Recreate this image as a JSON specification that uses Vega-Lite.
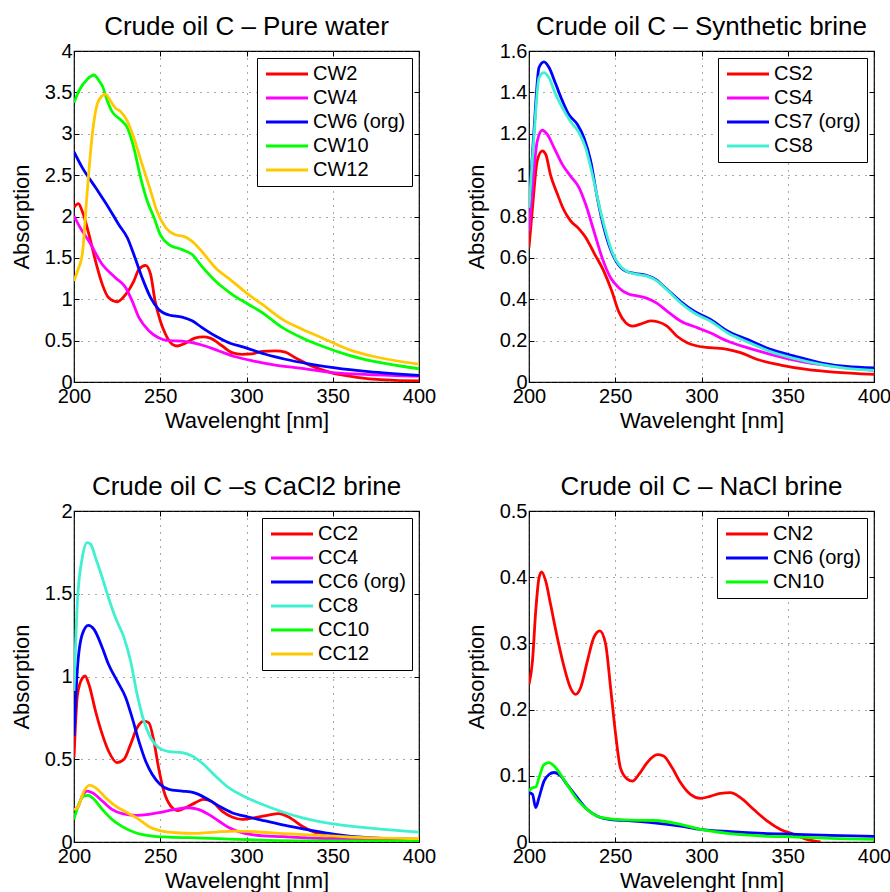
{
"$schema": "https://vega.github.io/schema/vega-lite/v6.json",
"padding": {"left": 9, "top": 13, "right": 0, "bottom": 0},
"background": "white",
"datasets": {
"pw": [
{"s":"CW2","w":200,"a":2.11},{"s":"CW2","w":202.5,"a":2.155},{"s":"CW2","w":205,"a":2.05},{"s":"CW2","w":208.7,"a":1.78},{"s":"CW2","w":212.5,"a":1.46},{"s":"CW2","w":216.4,"a":1.18},{"s":"CW2","w":220,"a":1.02},{"s":"CW2","w":225,"a":0.97},{"s":"CW2","w":230,"a":1.06},{"s":"CW2","w":234.7,"a":1.22},{"s":"CW2","w":237.6,"a":1.36},{"s":"CW2","w":241.5,"a":1.41},{"s":"CW2","w":244.4,"a":1.3},{"s":"CW2","w":247,"a":0.98},{"s":"CW2","w":250,"a":0.74},{"s":"CW2","w":253,"a":0.58},{"s":"CW2","w":257,"a":0.455},{"s":"CW2","w":260,"a":0.435},{"s":"CW2","w":264.6,"a":0.47},{"s":"CW2","w":270,"a":0.53},{"s":"CW2","w":275,"a":0.545},{"s":"CW2","w":279,"a":0.53},{"s":"CW2","w":286,"a":0.435},{"s":"CW2","w":291.6,"a":0.355},{"s":"CW2","w":297.4,"a":0.335},{"s":"CW2","w":303,"a":0.34},{"s":"CW2","w":309,"a":0.37},{"s":"CW2","w":316.7,"a":0.375},{"s":"CW2","w":322.5,"a":0.36},{"s":"CW2","w":328,"a":0.295},{"s":"CW2","w":336,"a":0.21},{"s":"CW2","w":349.5,"a":0.11},{"s":"CW2","w":363,"a":0.06},{"s":"CW2","w":380,"a":0.025},{"s":"CW2","w":400,"a":0.012},
{"s":"CW4","w":200,"a":2.006},{"s":"CW4","w":204,"a":1.85},{"s":"CW4","w":208.7,"a":1.7},{"s":"CW4","w":216.4,"a":1.42},{"s":"CW4","w":224,"a":1.26},{"s":"CW4","w":230,"a":1.14},{"s":"CW4","w":233.7,"a":0.98},{"s":"CW4","w":237.6,"a":0.78},{"s":"CW4","w":243.4,"a":0.62},{"s":"CW4","w":249,"a":0.535},{"s":"CW4","w":255,"a":0.5},{"s":"CW4","w":262.7,"a":0.495},{"s":"CW4","w":268.5,"a":0.475},{"s":"CW4","w":276,"a":0.435},{"s":"CW4","w":284,"a":0.375},{"s":"CW4","w":293.5,"a":0.305},{"s":"CW4","w":305,"a":0.25},{"s":"CW4","w":316.7,"a":0.205},{"s":"CW4","w":332,"a":0.165},{"s":"CW4","w":351.4,"a":0.11},{"s":"CW4","w":370.7,"a":0.09},{"s":"CW4","w":400,"a":0.07},
{"s":"CW6 (org)","w":200,"a":2.78},{"s":"CW6 (org)","w":204.8,"a":2.59},{"s":"CW6 (org)","w":212.5,"a":2.35},{"s":"CW6 (org)","w":220,"a":2.11},{"s":"CW6 (org)","w":226,"a":1.9},{"s":"CW6 (org)","w":231,"a":1.74},{"s":"CW6 (org)","w":234.7,"a":1.54},{"s":"CW6 (org)","w":239.5,"a":1.26},{"s":"CW6 (org)","w":244.4,"a":1.02},{"s":"CW6 (org)","w":249,"a":0.88},{"s":"CW6 (org)","w":255,"a":0.81},{"s":"CW6 (org)","w":262.7,"a":0.785},{"s":"CW6 (org)","w":268.5,"a":0.74},{"s":"CW6 (org)","w":274,"a":0.66},{"s":"CW6 (org)","w":282,"a":0.555},{"s":"CW6 (org)","w":289.7,"a":0.475},{"s":"CW6 (org)","w":299.3,"a":0.415},{"s":"CW6 (org)","w":311,"a":0.335},{"s":"CW6 (org)","w":322.5,"a":0.275},{"s":"CW6 (org)","w":336,"a":0.22},{"s":"CW6 (org)","w":351.4,"a":0.17},{"s":"CW6 (org)","w":370.7,"a":0.125},{"s":"CW6 (org)","w":400,"a":0.08},
{"s":"CW10","w":200,"a":3.375},{"s":"CW10","w":202.9,"a":3.52},{"s":"CW10","w":207.7,"a":3.66},{"s":"CW10","w":211.6,"a":3.71},{"s":"CW10","w":214.5,"a":3.64},{"s":"CW10","w":216.4,"a":3.58},{"s":"CW10","w":219.3,"a":3.4},{"s":"CW10","w":222,"a":3.27},{"s":"CW10","w":227,"a":3.17},{"s":"CW10","w":231,"a":3.07},{"s":"CW10","w":234.7,"a":2.83},{"s":"CW10","w":238.6,"a":2.47},{"s":"CW10","w":242.4,"a":2.19},{"s":"CW10","w":246.3,"a":1.99},{"s":"CW10","w":250,"a":1.78},{"s":"CW10","w":255,"a":1.66},{"s":"CW10","w":262.7,"a":1.6},{"s":"CW10","w":268.5,"a":1.54},{"s":"CW10","w":274,"a":1.4},{"s":"CW10","w":282,"a":1.22},{"s":"CW10","w":291.6,"a":1.06},{"s":"CW10","w":301,"a":0.94},{"s":"CW10","w":309,"a":0.84},{"s":"CW10","w":320.6,"a":0.66},{"s":"CW10","w":332,"a":0.535},{"s":"CW10","w":343.6,"a":0.435},{"s":"CW10","w":359,"a":0.325},{"s":"CW10","w":374.5,"a":0.245},{"s":"CW10","w":400,"a":0.16},
{"s":"CW12","w":200,"a":1.22},{"s":"CW12","w":202,"a":1.34},{"s":"CW12","w":204.8,"a":1.54},{"s":"CW12","w":207.7,"a":2.31},{"s":"CW12","w":210.6,"a":2.99},{"s":"CW12","w":213.5,"a":3.36},{"s":"CW12","w":216.4,"a":3.46},{"s":"CW12","w":218.3,"a":3.48},{"s":"CW12","w":221,"a":3.4},{"s":"CW12","w":224,"a":3.31},{"s":"CW12","w":227,"a":3.27},{"s":"CW12","w":231,"a":3.15},{"s":"CW12","w":234.7,"a":2.95},{"s":"CW12","w":239.5,"a":2.63},{"s":"CW12","w":244.4,"a":2.31},{"s":"CW12","w":248,"a":2.07},{"s":"CW12","w":253,"a":1.87},{"s":"CW12","w":258.8,"a":1.78},{"s":"CW12","w":263.6,"a":1.76},{"s":"CW12","w":268.5,"a":1.7},{"s":"CW12","w":274,"a":1.58},{"s":"CW12","w":282,"a":1.38},{"s":"CW12","w":291.6,"a":1.22},{"s":"CW12","w":301,"a":1.06},{"s":"CW12","w":309,"a":0.94},{"s":"CW12","w":320.6,"a":0.76},{"s":"CW12","w":332,"a":0.64},{"s":"CW12","w":343.6,"a":0.535},{"s":"CW12","w":359,"a":0.395},{"s":"CW12","w":374.5,"a":0.305},{"s":"CW12","w":400,"a":0.215}
],
"sb": [
{"s":"CS2","w":200,"a":0.65},{"s":"CS2","w":202,"a":0.84},{"s":"CS2","w":204.8,"a":1.07},{"s":"CS2","w":207.7,"a":1.117},{"s":"CS2","w":209.7,"a":1.1},{"s":"CS2","w":212.5,"a":1.0},{"s":"CS2","w":216.4,"a":0.91},{"s":"CS2","w":220,"a":0.835},{"s":"CS2","w":224,"a":0.78},{"s":"CS2","w":229,"a":0.74},{"s":"CS2","w":232.8,"a":0.7},{"s":"CS2","w":237.6,"a":0.625},{"s":"CS2","w":243.4,"a":0.535},{"s":"CS2","w":248,"a":0.44},{"s":"CS2","w":252,"a":0.34},{"s":"CS2","w":256,"a":0.287},{"s":"CS2","w":260,"a":0.27},{"s":"CS2","w":264.7,"a":0.28},{"s":"CS2","w":270.5,"a":0.295},{"s":"CS2","w":275,"a":0.29},{"s":"CS2","w":280,"a":0.27},{"s":"CS2","w":286,"a":0.22},{"s":"CS2","w":291.7,"a":0.19},{"s":"CS2","w":297.5,"a":0.174},{"s":"CS2","w":305,"a":0.166},{"s":"CS2","w":315,"a":0.158},{"s":"CS2","w":322.6,"a":0.142},{"s":"CS2","w":332,"a":0.11},{"s":"CS2","w":345.8,"a":0.082},{"s":"CS2","w":361,"a":0.061},{"s":"CS2","w":376.6,"a":0.048},{"s":"CS2","w":400,"a":0.037},
{"s":"CS4","w":200,"a":0.73},{"s":"CS4","w":202,"a":0.94},{"s":"CS4","w":204.8,"a":1.165},{"s":"CS4","w":207.7,"a":1.217},{"s":"CS4","w":210.6,"a":1.197},{"s":"CS4","w":214.5,"a":1.133},{"s":"CS4","w":219.3,"a":1.052},{"s":"CS4","w":224,"a":0.996},{"s":"CS4","w":229,"a":0.94},{"s":"CS4","w":232.8,"a":0.86},{"s":"CS4","w":237.6,"a":0.73},{"s":"CS4","w":242.4,"a":0.6},{"s":"CS4","w":247.3,"a":0.504},{"s":"CS4","w":252,"a":0.456},{"s":"CS4","w":258,"a":0.424},{"s":"CS4","w":262.7,"a":0.416},{"s":"CS4","w":268.5,"a":0.404},{"s":"CS4","w":274.3,"a":0.38},{"s":"CS4","w":280,"a":0.343},{"s":"CS4","w":287.8,"a":0.295},{"s":"CS4","w":297.5,"a":0.263},{"s":"CS4","w":305,"a":0.238},{"s":"CS4","w":315,"a":0.198},{"s":"CS4","w":326.4,"a":0.166},{"s":"CS4","w":340,"a":0.134},{"s":"CS4","w":357.3,"a":0.1},{"s":"CS4","w":376.6,"a":0.077},{"s":"CS4","w":400,"a":0.056},
{"s":"CS7 (org)","w":200,"a":0.84},{"s":"CS7 (org)","w":203,"a":1.23},{"s":"CS7 (org)","w":205.8,"a":1.52},{"s":"CS7 (org)","w":208.7,"a":1.547},{"s":"CS7 (org)","w":211.6,"a":1.52},{"s":"CS7 (org)","w":215.5,"a":1.44},{"s":"CS7 (org)","w":219.3,"a":1.36},{"s":"CS7 (org)","w":223,"a":1.294},{"s":"CS7 (org)","w":228,"a":1.246},{"s":"CS7 (org)","w":231.9,"a":1.18},{"s":"CS7 (org)","w":235.7,"a":1.07},{"s":"CS7 (org)","w":239.6,"a":0.89},{"s":"CS7 (org)","w":243.4,"a":0.746},{"s":"CS7 (org)","w":247.3,"a":0.64},{"s":"CS7 (org)","w":251,"a":0.577},{"s":"CS7 (org)","w":256,"a":0.537},{"s":"CS7 (org)","w":261.8,"a":0.524},{"s":"CS7 (org)","w":267.6,"a":0.517},{"s":"CS7 (org)","w":273.4,"a":0.496},{"s":"CS7 (org)","w":280,"a":0.448},{"s":"CS7 (org)","w":287.8,"a":0.39},{"s":"CS7 (org)","w":295.5,"a":0.343},{"s":"CS7 (org)","w":305,"a":0.303},{"s":"CS7 (org)","w":315,"a":0.247},{"s":"CS7 (org)","w":326.4,"a":0.206},{"s":"CS7 (org)","w":340,"a":0.158},{"s":"CS7 (org)","w":353.5,"a":0.126},{"s":"CS7 (org)","w":369,"a":0.093},{"s":"CS7 (org)","w":384,"a":0.075},{"s":"CS7 (org)","w":400,"a":0.068},
{"s":"CS8","w":200,"a":0.84},{"s":"CS8","w":203,"a":1.2},{"s":"CS8","w":205.8,"a":1.47},{"s":"CS8","w":208.7,"a":1.495},{"s":"CS8","w":211.6,"a":1.47},{"s":"CS8","w":215.5,"a":1.39},{"s":"CS8","w":219.3,"a":1.326},{"s":"CS8","w":224,"a":1.26},{"s":"CS8","w":229,"a":1.205},{"s":"CS8","w":232.8,"a":1.133},{"s":"CS8","w":236.7,"a":1.004},{"s":"CS8","w":240.5,"a":0.86},{"s":"CS8","w":244.4,"a":0.73},{"s":"CS8","w":248,"a":0.633},{"s":"CS8","w":252,"a":0.569},{"s":"CS8","w":257,"a":0.533},{"s":"CS8","w":262.7,"a":0.52},{"s":"CS8","w":268.5,"a":0.512},{"s":"CS8","w":274.3,"a":0.488},{"s":"CS8","w":281,"a":0.437},{"s":"CS8","w":287.8,"a":0.383},{"s":"CS8","w":295.5,"a":0.335},{"s":"CS8","w":305,"a":0.295},{"s":"CS8","w":315,"a":0.238},{"s":"CS8","w":326.4,"a":0.195},{"s":"CS8","w":340,"a":0.147},{"s":"CS8","w":353.5,"a":0.114},{"s":"CS8","w":369,"a":0.085},{"s":"CS8","w":384,"a":0.066},{"s":"CS8","w":400,"a":0.056}
],
"cc": [
{"s":"CC2","w":200,"a":0.51},{"s":"CC2","w":202,"a":0.89},{"s":"CC2","w":204.8,"a":0.99},{"s":"CC2","w":206.4,"a":1.003},{"s":"CC2","w":208.7,"a":0.95},{"s":"CC2","w":212.5,"a":0.79},{"s":"CC2","w":216.4,"a":0.65},{"s":"CC2","w":220,"a":0.55},{"s":"CC2","w":225,"a":0.48},{"s":"CC2","w":229,"a":0.5},{"s":"CC2","w":232.8,"a":0.59},{"s":"CC2","w":236.6,"a":0.69},{"s":"CC2","w":240.5,"a":0.73},{"s":"CC2","w":243.4,"a":0.72},{"s":"CC2","w":246.3,"a":0.61},{"s":"CC2","w":249,"a":0.45},{"s":"CC2","w":252,"a":0.31},{"s":"CC2","w":256,"a":0.218},{"s":"CC2","w":260,"a":0.19},{"s":"CC2","w":264.6,"a":0.207},{"s":"CC2","w":270.4,"a":0.238},{"s":"CC2","w":275,"a":0.258},{"s":"CC2","w":280,"a":0.244},{"s":"CC2","w":285.8,"a":0.187},{"s":"CC2","w":291.6,"a":0.151},{"s":"CC2","w":297.4,"a":0.137},{"s":"CC2","w":305,"a":0.147},{"s":"CC2","w":312.8,"a":0.163},{"s":"CC2","w":318.6,"a":0.171},{"s":"CC2","w":324.4,"a":0.151},{"s":"CC2","w":332,"a":0.097},{"s":"CC2","w":340,"a":0.056},{"s":"CC2","w":351.4,"a":0.026},{"s":"CC2","w":363,"a":0.006},{"s":"CC2","w":370,"a":0},
{"s":"CC4","w":200,"a":0.197},{"s":"CC4","w":202,"a":0.207},{"s":"CC4","w":204.8,"a":0.278},{"s":"CC4","w":207.7,"a":0.308},{"s":"CC4","w":210.6,"a":0.298},{"s":"CC4","w":216.4,"a":0.248},{"s":"CC4","w":222,"a":0.197},{"s":"CC4","w":228,"a":0.171},{"s":"CC4","w":235.7,"a":0.161},{"s":"CC4","w":243.4,"a":0.167},{"s":"CC4","w":251,"a":0.181},{"s":"CC4","w":258.8,"a":0.197},{"s":"CC4","w":266.5,"a":0.207},{"s":"CC4","w":272,"a":0.197},{"s":"CC4","w":278,"a":0.167},{"s":"CC4","w":283.9,"a":0.127},{"s":"CC4","w":289.7,"a":0.087},{"s":"CC4","w":295.5,"a":0.062},{"s":"CC4","w":305,"a":0.042},{"s":"CC4","w":320.6,"a":0.032},{"s":"CC4","w":341.8,"a":0.022},{"s":"CC4","w":370.7,"a":0.016},{"s":"CC4","w":400,"a":0.012},
{"s":"CC6 (org)","w":200,"a":0.64},{"s":"CC6 (org)","w":202,"a":1.05},{"s":"CC6 (org)","w":204.8,"a":1.255},{"s":"CC6 (org)","w":208.3,"a":1.309},{"s":"CC6 (org)","w":211.6,"a":1.285},{"s":"CC6 (org)","w":216.4,"a":1.174},{"s":"CC6 (org)","w":220,"a":1.074},{"s":"CC6 (org)","w":225,"a":0.973},{"s":"CC6 (org)","w":230,"a":0.872},{"s":"CC6 (org)","w":233.7,"a":0.751},{"s":"CC6 (org)","w":237.6,"a":0.61},{"s":"CC6 (org)","w":241.5,"a":0.49},{"s":"CC6 (org)","w":245.3,"a":0.409},{"s":"CC6 (org)","w":250,"a":0.348},{"s":"CC6 (org)","w":255,"a":0.318},{"s":"CC6 (org)","w":262.7,"a":0.308},{"s":"CC6 (org)","w":269.4,"a":0.298},{"s":"CC6 (org)","w":276,"a":0.268},{"s":"CC6 (org)","w":283.9,"a":0.218},{"s":"CC6 (org)","w":291.6,"a":0.177},{"s":"CC6 (org)","w":301,"a":0.151},{"s":"CC6 (org)","w":311,"a":0.127},{"s":"CC6 (org)","w":322.5,"a":0.1},{"s":"CC6 (org)","w":336,"a":0.073},{"s":"CC6 (org)","w":351.4,"a":0.046},{"s":"CC6 (org)","w":370.7,"a":0.026},{"s":"CC6 (org)","w":400,"a":0.016},
{"s":"CC8","w":200,"a":0.912},{"s":"CC8","w":202,"a":1.456},{"s":"CC8","w":204.8,"a":1.718},{"s":"CC8","w":207.7,"a":1.809},{"s":"CC8","w":209.6,"a":1.8},{"s":"CC8","w":212.5,"a":1.718},{"s":"CC8","w":216.4,"a":1.597},{"s":"CC8","w":220,"a":1.476},{"s":"CC8","w":224,"a":1.356},{"s":"CC8","w":229,"a":1.235},{"s":"CC8","w":232.8,"a":1.094},{"s":"CC8","w":236.6,"a":0.892},{"s":"CC8","w":240.5,"a":0.731},{"s":"CC8","w":244.4,"a":0.63},{"s":"CC8","w":249,"a":0.57},{"s":"CC8","w":255,"a":0.546},{"s":"CC8","w":262.7,"a":0.54},{"s":"CC8","w":268.5,"a":0.52},{"s":"CC8","w":274,"a":0.479},{"s":"CC8","w":282,"a":0.399},{"s":"CC8","w":289.7,"a":0.328},{"s":"CC8","w":299.3,"a":0.272},{"s":"CC8","w":309,"a":0.228},{"s":"CC8","w":320.6,"a":0.183},{"s":"CC8","w":332,"a":0.147},{"s":"CC8","w":345.6,"a":0.117},{"s":"CC8","w":359,"a":0.097},{"s":"CC8","w":374.5,"a":0.081},{"s":"CC8","w":400,"a":0.06},
{"s":"CC10","w":200,"a":0.137},{"s":"CC10","w":202,"a":0.207},{"s":"CC10","w":205.8,"a":0.278},{"s":"CC10","w":208.3,"a":0.282},{"s":"CC10","w":211.6,"a":0.258},{"s":"CC10","w":216.4,"a":0.197},{"s":"CC10","w":222,"a":0.137},{"s":"CC10","w":228,"a":0.093},{"s":"CC10","w":235.7,"a":0.056},{"s":"CC10","w":245.3,"a":0.036},{"s":"CC10","w":255,"a":0.03},{"s":"CC10","w":274,"a":0.024},{"s":"CC10","w":293.5,"a":0.016},{"s":"CC10","w":312.8,"a":0.01},{"s":"CC10","w":351.4,"a":0.006},{"s":"CC10","w":400,"a":0.004},
{"s":"CC12","w":200,"a":0.197},{"s":"CC12","w":202,"a":0.207},{"s":"CC12","w":205.8,"a":0.308},{"s":"CC12","w":209,"a":0.344},{"s":"CC12","w":212.5,"a":0.328},{"s":"CC12","w":218.3,"a":0.268},{"s":"CC12","w":224,"a":0.218},{"s":"CC12","w":230.9,"a":0.177},{"s":"CC12","w":237.6,"a":0.137},{"s":"CC12","w":244.4,"a":0.087},{"s":"CC12","w":251,"a":0.066},{"s":"CC12","w":258.8,"a":0.056},{"s":"CC12","w":270.4,"a":0.052},{"s":"CC12","w":282,"a":0.06},{"s":"CC12","w":293.5,"a":0.066},{"s":"CC12","w":305,"a":0.062},{"s":"CC12","w":322.5,"a":0.05},{"s":"CC12","w":341.8,"a":0.04},{"s":"CC12","w":361,"a":0.03},{"s":"CC12","w":400,"a":0.02}
],
"nc": [
{"s":"CN2","w":200,"a":0.238},{"s":"CN2","w":202,"a":0.273},{"s":"CN2","w":203.9,"a":0.349},{"s":"CN2","w":205.8,"a":0.399},{"s":"CN2","w":207.3,"a":0.408},{"s":"CN2","w":209.7,"a":0.394},{"s":"CN2","w":212.5,"a":0.359},{"s":"CN2","w":216.4,"a":0.309},{"s":"CN2","w":220,"a":0.268},{"s":"CN2","w":224,"a":0.233},{"s":"CN2","w":227,"a":0.223},{"s":"CN2","w":229.9,"a":0.233},{"s":"CN2","w":233.8,"a":0.273},{"s":"CN2","w":237.6,"a":0.309},{"s":"CN2","w":241.1,"a":0.319},{"s":"CN2","w":244.4,"a":0.299},{"s":"CN2","w":247.3,"a":0.233},{"s":"CN2","w":250.2,"a":0.163},{"s":"CN2","w":253,"a":0.112},{"s":"CN2","w":257,"a":0.095},{"s":"CN2","w":260,"a":0.092},{"s":"CN2","w":263.7,"a":0.102},{"s":"CN2","w":268.5,"a":0.12},{"s":"CN2","w":274.3,"a":0.132},{"s":"CN2","w":278,"a":0.13},{"s":"CN2","w":283,"a":0.112},{"s":"CN2","w":287.8,"a":0.09},{"s":"CN2","w":293.6,"a":0.072},{"s":"CN2","w":299.4,"a":0.066},{"s":"CN2","w":305,"a":0.069},{"s":"CN2","w":311,"a":0.0735},{"s":"CN2","w":316.8,"a":0.0745},{"s":"CN2","w":322.6,"a":0.067},{"s":"CN2","w":330.3,"a":0.049},{"s":"CN2","w":338,"a":0.032},{"s":"CN2","w":345.8,"a":0.019},{"s":"CN2","w":353.5,"a":0.0116},{"s":"CN2","w":361,"a":0.004},{"s":"CN2","w":369,"a":0},
{"s":"CN6 (org)","w":200,"a":0.0745},{"s":"CN6 (org)","w":202,"a":0.072},{"s":"CN6 (org)","w":203.9,"a":0.052},{"s":"CN6 (org)","w":205.8,"a":0.067},{"s":"CN6 (org)","w":208.7,"a":0.092},{"s":"CN6 (org)","w":211.6,"a":0.102},{"s":"CN6 (org)","w":214.5,"a":0.105},{"s":"CN6 (org)","w":218.3,"a":0.1},{"s":"CN6 (org)","w":222,"a":0.087},{"s":"CN6 (org)","w":228,"a":0.067},{"s":"CN6 (org)","w":233.8,"a":0.049},{"s":"CN6 (org)","w":239.6,"a":0.039},{"s":"CN6 (org)","w":247.3,"a":0.034},{"s":"CN6 (org)","w":259,"a":0.032},{"s":"CN6 (org)","w":272.4,"a":0.029},{"s":"CN6 (org)","w":287.8,"a":0.024},{"s":"CN6 (org)","w":299.4,"a":0.019},{"s":"CN6 (org)","w":316.8,"a":0.0156},{"s":"CN6 (org)","w":336,"a":0.013},{"s":"CN6 (org)","w":355.4,"a":0.0116},{"s":"CN6 (org)","w":374.7,"a":0.01},{"s":"CN6 (org)","w":400,"a":0.0086},
{"s":"CN10","w":200,"a":0.077},{"s":"CN10","w":202,"a":0.082},{"s":"CN10","w":203.9,"a":0.083},{"s":"CN10","w":205.8,"a":0.097},{"s":"CN10","w":208.7,"a":0.117},{"s":"CN10","w":211.6,"a":0.12},{"s":"CN10","w":214.5,"a":0.115},{"s":"CN10","w":218.3,"a":0.102},{"s":"CN10","w":222,"a":0.087},{"s":"CN10","w":228,"a":0.064},{"s":"CN10","w":233.8,"a":0.049},{"s":"CN10","w":239.6,"a":0.039},{"s":"CN10","w":247.3,"a":0.035},{"s":"CN10","w":259,"a":0.033},{"s":"CN10","w":272.4,"a":0.0325},{"s":"CN10","w":287.8,"a":0.0267},{"s":"CN10","w":299.4,"a":0.019},{"s":"CN10","w":316.8,"a":0.0126},{"s":"CN10","w":336,"a":0.009},{"s":"CN10","w":355.4,"a":0.0075},{"s":"CN10","w":374.7,"a":0.0055},{"s":"CN10","w":400,"a":0.004}
]
},
"concat": [
{
"width": 345, "height": 331,
"title": "Crude oil C – Pure water",
"data": {"name": "pw"},
"layer": [
{"mark": {"type": "line", "interpolate": "monotone", "strokeWidth": 2.8, "clip": true},
 "encoding": {
  "x": {"field": "w", "type": "quantitative", "scale": {"domain": [200, 400], "nice": false}, "axis": {"values": [200, 250, 300, 350, 400], "title": "Wavelenght [nm]"}},
  "y": {"field": "a", "type": "quantitative", "scale": {"domain": [0, 4], "nice": false}, "axis": {"values": [0, 0.5, 1, 1.5, 2, 2.5, 3, 3.5, 4], "format": "~g", "title": "Absorption"}},
  "color": {"field": "s", "type": "nominal", "scale": {"domain": ["CW2", "CW4", "CW6 (org)", "CW10", "CW12"], "range": ["#ff0000", "#ff00ff", "#0000ff", "#00ff00", "#ffc800"]}, "legend": {"orient": "top-right", "offset": 7}}
 }},
{"mark": {"type": "line", "strokeOpacity": 0},
 "encoding": {
  "x": {"field": "w", "type": "quantitative", "axis": {"orient": "top", "values": [200, 250, 300, 350, 400], "labels": false, "grid": false, "title": null}},
  "y": {"field": "a", "type": "quantitative", "axis": {"orient": "right", "values": [0, 0.5, 1, 1.5, 2, 2.5, 3, 3.5, 4], "labels": false, "grid": false, "title": null}},
  "detail": {"field": "s"}
 }}
],
"resolve": {"axis": {"x": "independent", "y": "independent"}}
},
{
"width": 345, "height": 331,
"title": "Crude oil C – Synthetic brine",
"data": {"name": "sb"},
"layer": [
{"mark": {"type": "line", "interpolate": "monotone", "strokeWidth": 2.8, "clip": true},
 "encoding": {
  "x": {"field": "w", "type": "quantitative", "scale": {"domain": [200, 400], "nice": false}, "axis": {"values": [200, 250, 300, 350, 400], "title": "Wavelenght [nm]"}},
  "y": {"field": "a", "type": "quantitative", "scale": {"domain": [0, 1.6], "nice": false}, "axis": {"values": [0, 0.2, 0.4, 0.6, 0.8, 1, 1.2, 1.4, 1.6], "format": "~g", "title": "Absorption"}},
  "color": {"field": "s", "type": "nominal", "scale": {"domain": ["CS2", "CS4", "CS7 (org)", "CS8"], "range": ["#ff0000", "#ff00ff", "#0000ff", "#40f0d0"]}, "legend": {"orient": "top-right", "offset": 7}}
 }},
{"mark": {"type": "line", "strokeOpacity": 0},
 "encoding": {
  "x": {"field": "w", "type": "quantitative", "axis": {"orient": "top", "values": [200, 250, 300, 350, 400], "labels": false, "grid": false, "title": null}},
  "y": {"field": "a", "type": "quantitative", "axis": {"orient": "right", "values": [0, 0.2, 0.4, 0.6, 0.8, 1, 1.2, 1.4, 1.6], "labels": false, "grid": false, "title": null}},
  "detail": {"field": "s"}
 }}
],
"resolve": {"axis": {"x": "independent", "y": "independent"}}
},
{
"width": 345, "height": 331,
"title": "Crude oil C –s CaCl2 brine",
"data": {"name": "cc"},
"layer": [
{"mark": {"type": "line", "interpolate": "monotone", "strokeWidth": 2.8, "clip": true},
 "encoding": {
  "x": {"field": "w", "type": "quantitative", "scale": {"domain": [200, 400], "nice": false}, "axis": {"values": [200, 250, 300, 350, 400], "title": "Wavelenght [nm]"}},
  "y": {"field": "a", "type": "quantitative", "scale": {"domain": [0, 2], "nice": false}, "axis": {"values": [0, 0.5, 1, 1.5, 2], "format": "~g", "title": "Absorption"}},
  "color": {"field": "s", "type": "nominal", "scale": {"domain": ["CC2", "CC4", "CC6 (org)", "CC8", "CC10", "CC12"], "range": ["#ff0000", "#ff00ff", "#0000ff", "#40f0d0", "#00ff00", "#ffc800"]}, "legend": {"orient": "top-right", "offset": 7}}
 }},
{"mark": {"type": "line", "strokeOpacity": 0},
 "encoding": {
  "x": {"field": "w", "type": "quantitative", "axis": {"orient": "top", "values": [200, 250, 300, 350, 400], "labels": false, "grid": false, "title": null}},
  "y": {"field": "a", "type": "quantitative", "axis": {"orient": "right", "values": [0, 0.5, 1, 1.5, 2], "labels": false, "grid": false, "title": null}},
  "detail": {"field": "s"}
 }}
],
"resolve": {"axis": {"x": "independent", "y": "independent"}}
},
{
"width": 345, "height": 331,
"title": "Crude oil C – NaCl brine",
"data": {"name": "nc"},
"layer": [
{"mark": {"type": "line", "interpolate": "monotone", "strokeWidth": 2.8, "clip": true},
 "encoding": {
  "x": {"field": "w", "type": "quantitative", "scale": {"domain": [200, 400], "nice": false}, "axis": {"values": [200, 250, 300, 350, 400], "title": "Wavelenght [nm]"}},
  "y": {"field": "a", "type": "quantitative", "scale": {"domain": [0, 0.5], "nice": false}, "axis": {"values": [0, 0.1, 0.2, 0.3, 0.4, 0.5], "format": "~g", "title": "Absorption"}},
  "color": {"field": "s", "type": "nominal", "scale": {"domain": ["CN2", "CN6 (org)", "CN10"], "range": ["#ff0000", "#0000ff", "#00ff00"]}, "legend": {"orient": "top-right", "offset": 7}}
 }},
{"mark": {"type": "line", "strokeOpacity": 0},
 "encoding": {
  "x": {"field": "w", "type": "quantitative", "axis": {"orient": "top", "values": [200, 250, 300, 350, 400], "labels": false, "grid": false, "title": null}},
  "y": {"field": "a", "type": "quantitative", "axis": {"orient": "right", "values": [0, 0.1, 0.2, 0.3, 0.4, 0.5], "labels": false, "grid": false, "title": null}},
  "detail": {"field": "s"}
 }}
],
"resolve": {"axis": {"x": "independent", "y": "independent"}}
}
],
"columns": 2,
"spacing": {"row": 129, "column": 110},
"bounds": "flush",
"resolve": {"scale": {"color": "independent"}, "legend": {"color": "independent"}},
"config": {
 "font": "Liberation Sans",
 "view": {"stroke": "black", "strokeWidth": 1.2},
 "title": {"font": "Liberation Sans", "fontSize": 26, "fontWeight": "normal", "color": "black", "offset": 1},
 "axis": {"labelFont": "Liberation Sans", "labelFontSize": 20, "labelColor": "black", "titleFont": "Liberation Sans", "titleFontSize": 22, "titleFontWeight": "normal", "titleColor": "black", "domain": false, "tickColor": "black", "tickSize": -5, "tickWidth": 1, "labelFlush": false, "labelOverlap": false, "gridColor": "#444444", "gridDash": [1, 6], "gridWidth": 1, "gridOpacity": 0.9},
 "axisX": {"labelPadding": 9, "titlePadding": 4},
 "axisY": {"labelPadding": 7, "titlePadding": 11},
 "legend": {"title": null, "strokeColor": "black", "fillColor": "white", "padding": 6, "cornerRadius": 0, "symbolType": "M-1,0H5", "symbolSize": 196, "symbolStrokeWidth": 3, "labelFont": "Liberation Sans", "labelFontSize": 20, "labelColor": "black", "labelOffset": 30, "rowPadding": 4, "labelLimit": 300}
}
}
